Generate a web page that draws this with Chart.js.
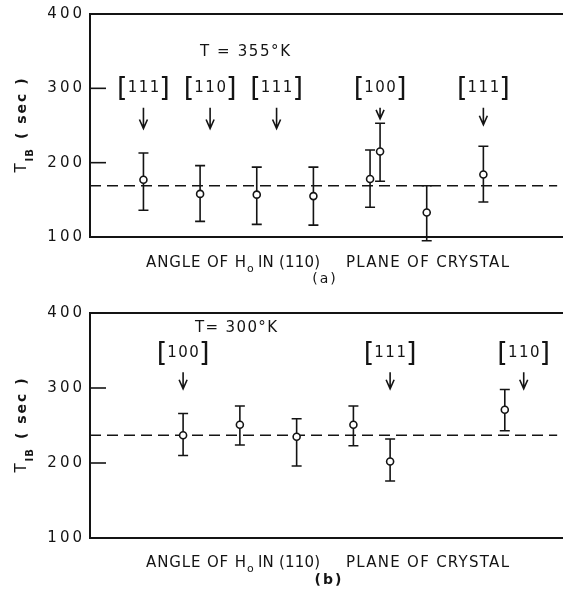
<!DOCTYPE html>
<html>
<head>
<meta charset="utf-8">
<script src="https://cdn.jsdelivr.net/npm/chart.js@4/dist/chart.umd.min.js"></script>
<style>
  body { margin: 0; background: #fff; }
  .panel { position: absolute; left: 0; width: 563px; }
</style>
</head>
<body>
<div class="panel" style="top:0;height:290px"><canvas id="chartA" width="563" height="290"></canvas></div>
<div class="panel" style="top:290px;height:300px"><canvas id="chartB" width="563" height="300"></canvas></div>
<script>
// panel (a), T = 355 K : angle of H0 in the (110) plane, degrees from [111]
const anglesA = [0, 30, 60, 90, 120, 125.3, 150, 180];
const t1bA = [177, 158, 157, 155, 178, 215, 133, 184];
const lowA = [136, 121, 117, 116, 140, 175, 95, 147];
const highA = [213, 196, 194, 194, 217, 253, 169, 222];
const meanA = 169;
const dirLabelsA = ["111", "110", "111", "100", "111"];
const dirAnglesA = [0, 35.3, 70.5, 125.3, 180];
const arrowTipsA = [246, 246, 246, 259, 251];

// panel (b), T = 300 K : degrees from [100]
const anglesB = [0, 15, 30, 45, 54.7, 85];
const t1bB = [237, 251, 235, 251, 202, 271];
const lowB = [210, 224, 196, 223, 176, 243];
const highB = [266, 276, 259, 276, 232, 298];
const meanB = 237;
const dirLabelsB = ["100", "111", "110"];
const dirAnglesB = [0, 54.7, 90];
const arrowTipsB = [299, 299, 299];

const yTicks = [100, 200, 300, 400];

const FONT = '"DejaVu Sans", sans-serif';
const INK = "#141414";

// draw text so it fills the span x0..x1 by adjusting letter spacing
function fitText(ctx, str, x0, x1, y, font) {
  ctx.font = font;
  ctx.letterSpacing = "0px";
  const natural = ctx.measureText(str).width;
  const sp = (x1 - x0 - natural) / (str.length - 1);
  ctx.letterSpacing = sp + "px";
  ctx.textAlign = "left";
  ctx.fillText(str, x0, y);
  ctx.letterSpacing = "0px";
}

function spacedWidth(ctx, str, font, sp) {
  ctx.font = font;
  ctx.letterSpacing = "0px";
  return ctx.measureText(str).width + sp * (str.length - 1);
}

function makePanel(id, p) {
  const framePlugin = {
    id: "frame",
    beforeDraw(chart) {
      chart.ctx.letterSpacing = "3px";
    },
    beforeDatasetsDraw(chart) {
      const { ctx, chartArea: a, scales: { x, y } } = chart;
      ctx.save();
      ctx.letterSpacing = "0px";
      ctx.strokeStyle = INK;
      ctx.lineWidth = 2;
      ctx.beginPath();
      ctx.moveTo(chart.width, a.top);
      ctx.lineTo(a.left, a.top);
      ctx.lineTo(a.left, a.bottom);
      ctx.lineTo(chart.width, a.bottom);
      ctx.stroke();
      // inward tick marks
      ctx.lineWidth = 1.6;
      yTicks.forEach((v) => {
        const py = y.getPixelForValue(v);
        ctx.beginPath();
        ctx.moveTo(a.left, py);
        ctx.lineTo(a.left + 16, py);
        ctx.stroke();
      });
      // error bars
      p.angles.forEach((ang, i) => {
        const px = x.getPixelForValue(ang);
        const lo = y.getPixelForValue(p.low[i]);
        const hi = y.getPixelForValue(p.high[i]);
        ctx.beginPath();
        ctx.moveTo(px, lo);
        ctx.lineTo(px, hi);
        ctx.moveTo(px - 5, lo);
        ctx.lineTo(px + 5, lo);
        ctx.moveTo(px - 5, hi);
        ctx.lineTo(px + 5, hi);
        ctx.stroke();
      });
      ctx.restore();
    },
    afterDraw(chart) {
      const { ctx, chartArea: a, scales: { x, y } } = chart;
      ctx.save();
      ctx.fillStyle = INK;
      ctx.strokeStyle = INK;
      ctx.textBaseline = "middle";

      // crystal directions with arrows
      p.dirLabels.forEach((lab, i) => {
        const px = x.getPixelForValue(p.dirAngles[i]);
        const py = y.getPixelForValue(p.labelY);
        const f = "15px " + FONT;
        const w = spacedWidth(ctx, lab, f, 1.5);
        ctx.letterSpacing = "1.5px";
        ctx.textAlign = "left";
        ctx.fillText(lab, px - w / 2, py);
        ctx.letterSpacing = "0px";
        ctx.font = "27px " + FONT;
        ctx.textAlign = "right";
        ctx.fillText("[", px - w / 2 + 0, py + 1);
        ctx.textAlign = "left";
        ctx.fillText("]", px + w / 2 + 0, py + 1);

        const top = y.getPixelForValue(p.arrowTop);
        const tip = y.getPixelForValue(p.arrowTips[i]);
        ctx.lineWidth = 1.6;
        ctx.beginPath();
        ctx.moveTo(px, top);
        ctx.lineTo(px, tip);
        ctx.moveTo(px - 4, tip - 9);
        ctx.lineTo(px, tip);
        ctx.lineTo(px + 4, tip - 9);
        ctx.stroke();
      });

      // temperature
      fitText(ctx, p.temp, p.tempX[0], p.tempX[1], p.tempY, "15px " + FONT);

      // y title: T_IB ( sec )
      ctx.save();
      ctx.translate(20, (a.top + a.bottom) / 2);
      ctx.rotate(-Math.PI / 2);
      ctx.textBaseline = "alphabetic";
      const fT = "15px " + FONT, fSub = "bold 10px " + FONT, fSec = "bold 14px " + FONT;
      const wT = spacedWidth(ctx, "T", fT, 0);
      const wSub = spacedWidth(ctx, "IB", fSub, 1);
      const wSec = spacedWidth(ctx, "( sec )", fSec, 2);
      const total = wT + 2 + wSub + 10 + wSec;
      let cx = -total / 2;
      ctx.font = fT;
      ctx.textAlign = "left";
      ctx.fillText("T", cx, 5.5);
      cx += wT + 2;
      ctx.font = fSub;
      ctx.letterSpacing = "1px";
      ctx.fillText("IB", cx, 13);
      cx += wSub + 10;
      ctx.font = fSec;
      ctx.letterSpacing = "2px";
      ctx.fillText("( sec )", cx, 6);
      ctx.restore();

      // x title
      const tf = "15px " + FONT;
      const ty = p.titleY;
      ctx.textBaseline = "alphabetic";
      fitText(ctx, "ANGLE OF H", 146, 246, ty + 5, tf);
      ctx.font = "11px " + FONT;
      ctx.fillText("o", 247, ty + 10);
      fitText(ctx, "IN (110)", 258, 320, ty + 5, tf);
      fitText(ctx, "PLANE OF CRYSTAL", 346, 509, ty + 5, tf);
      ctx.font = p.tagFont + " 14px " + FONT;
      ctx.letterSpacing = "2px";
      ctx.textAlign = "center";
      ctx.fillText(p.tag, p.tagX, p.tagY + 5);
      ctx.restore();
    },
  };

  return new Chart(document.getElementById(id), {
    type: "scatter",
    data: {
      datasets: [
        {
          label: "T1B",
          data: p.angles.map((a, i) => ({ x: a, y: p.values[i] })),
          pointRadius: 3.5,
          pointBackgroundColor: "#fff",
          pointBorderColor: INK,
          pointBorderWidth: 1.6,
          order: 0,
        },
        {
          type: "line",
          label: "mean",
          data: [
            { x: p.xMin, y: p.mean },
            { x: p.xMax, y: p.mean },
          ],
          borderColor: INK,
          borderWidth: 1.5,
          borderDash: [11, 6],
          pointRadius: 0,
          order: 1,
        },
      ],
    },
    options: {
      responsive: false,
      animation: false,
      layout: { padding: { top: p.padTop, bottom: p.padBottom, left: 0, right: 0 } },
      plugins: { legend: { display: false }, tooltip: { enabled: false } },
      scales: {
        x: { type: "linear", display: false, min: p.xMin, max: p.xMax },
        y: {
          min: 100,
          max: 400,
          afterBuildTicks: (scale) => {
            scale.ticks = yTicks.map((v) => ({ value: v }));
          },
          afterFit: (scale) => {
            scale.width = 90;
          },
          grid: { display: false, drawTicks: false },
          border: { display: false },
          ticks: { color: INK, padding: 5, font: { family: FONT, size: 15 } },
        },
      },
    },
    plugins: [framePlugin],
  });
}

makePanel("chartA", {
  angles: anglesA, values: t1bA, low: lowA, high: highA, mean: meanA,
  dirLabels: dirLabelsA, dirAngles: dirAnglesA, arrowTips: arrowTipsA,
  labelY: 300, arrowTop: 274,
  xMin: -28.3, xMax: 219.2, padTop: 11, padBottom: 53,
  temp: "T = 355°K", tempX: [200, 290], tempY: 52,
  titleY: 262, tag: "(a)", tagX: 325, tagY: 278, tagFont: "normal",
});

makePanel("chartB", {
  angles: anglesB, values: t1bB, low: lowB, high: highB, mean: meanB,
  dirLabels: dirLabelsB, dirAngles: dirAnglesB, arrowTips: arrowTipsB,
  labelY: 347, arrowTop: 321,
  xMin: -24.6, xMax: 98.9, padTop: 23, padBottom: 52,
  temp: "T= 300°K", tempX: [195, 277], tempY: 38,
  titleY: 272, tag: "(b)", tagX: 329, tagY: 289, tagFont: "bold",
});
</script>
</body>
</html>
